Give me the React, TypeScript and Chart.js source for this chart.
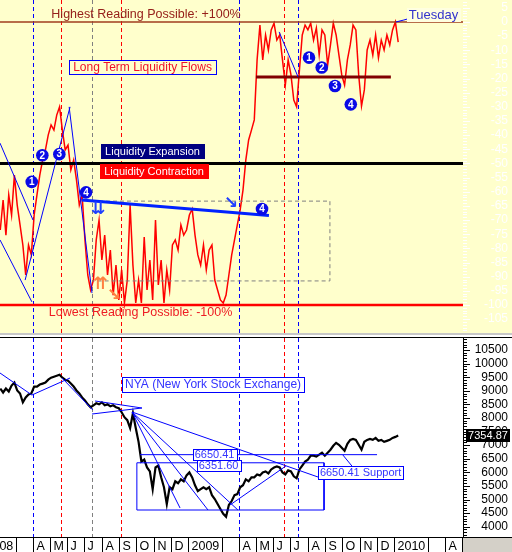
import React, { useEffect, useRef } from "react";
import { Chart, registerables } from "chart.js";

Chart.register(...registerables);

const FONT = "'Liberation Sans', Arial, Helvetica, sans-serif";

// x values: days counted from 1 Jan 2008
const X_MIN = 32.5;
const X_MAX = 852.8;
const SERIES_START_DAY = 33;
const SERIES_STEP_DAYS = 5;

// Long term liquidity flow reading (right-axis units), one value every 5 days
const liquidityFlow: number[] = [
  -73.5, -62.9, -75.3, -61.1, -68.2, -54.1, -64.7, -71.7, -78.8, -89.4,
  -78.8, -82.3, -68.2, -61.1, -54.1, -48.8, -45.2, -39.9, -36.4, -38.2,
  -32.9, -30.0, -38.2, -45.2, -43.5, -52.3, -48.8, -55.8, -64.7, -61.1,
  -77.0, -89.4, -94.7, -91.2, -77.0, -70.0, -84.1, -75.3, -89.4, -80.6,
  -96.5, -85.9, -98.2, -87.6, -99.3, -91.2, -64.7, -85.9, -99.3, -91.2,
  -99.3, -76.0, -94.7, -84.1, -98.2, -70.0, -92.9, -84.1, -99.3, -87.6,
  -94.7, -78.8, -77.0, -80.6, -71.7, -75.3, -73.5, -68.2, -66.1, -75.3,
  -82.3, -85.9, -78.8, -87.6, -80.6, -78.8, -91.2, -94.7, -98.2, -99.3,
  -96.5, -89.4, -82.3, -77.0, -71.7, -66.4, -59.4, -48.8, -41.7, -38.2,
  -34.6, -13.4, -1.1, -13.4, -4.6, -9.9, -2.8, -0.4, -6.4, -4.6,
  -13.4, -22.3, -13.4, -18.7, -27.6, -30.0, -17.0, -4.6, -1.1, -2.8,
  -0.4, -6.4, -2.1, -11.7, -2.8, -4.6, -15.2, -8.1, -0.4, -4.6,
  -11.7, -18.7, -22.3, -13.4, -8.1, -1.1, -2.8, -18.7, -29.7, -24.0,
  -9.9, -6.4, -11.7, -4.6, -12.7, -6.4, -9.9, -4.6, -8.1, -2.8,
  0, -7.1,
];

// NYA close, one value every 5 days
const nyaClose: number[] = [
  9083, 8938, 9083, 8974, 9192, 9301, 9011, 8902, 8575, 8757,
  8866, 8902, 9156, 9156, 9229, 9265, 9301, 9410, 9483, 9519,
  9555, 9592, 9483, 9410, 9374, 9265, 9156, 9011, 8902, 8757,
  8648, 8502, 8394, 8466, 8539, 8502, 8575, 8466, 8502, 8430,
  8466, 8394, 8357, 8212, 8030, 7921, 7631, 8176, 7631, 7123,
  6396, 6469, 6179, 6033, 5380, 6179, 6251, 5816, 5452, 4835,
  5452, 5380, 5670, 5598, 5743, 5670, 5888, 5997, 5816, 5525,
  5307, 5380, 5452, 5380, 5452, 5162, 5017, 4835, 4654, 4472,
  4363, 4799, 4944, 5162, 5198, 5452, 5525, 5743, 5670, 5816,
  5816, 5924, 5888, 5997, 6033, 5961, 6106, 6179, 6215, 6179,
  5997, 5924, 6070, 6033, 5852, 5779, 6106, 6251, 6396, 6469,
  6614, 6614, 6578, 6651, 6723, 6614, 6723, 6832, 6977, 7086,
  7014, 6905, 6796, 7050, 7195, 7232, 7195, 7014, 6832, 7123,
  7195, 7232, 7195, 7268, 7159, 7195, 7123, 7159, 7195, 7268,
  7304, 7354.87,
];
const nyaLastValue = 7354.87;

const liquidityTicks = [5, 0, -5, -10, -15, -20, -25, -30, -35, -40, -45, -50, -55, -60, -65, -70, -75, -80, -85, -90, -95, -100, -105];
const nyaTicks = [4000, 4500, 5000, 5500, 6000, 6500, 7000, 7500, 8000, 8500, 9000, 9500, 10000, 10500];
const monthLetters = ["J", "F", "M", "A", "M", "J", "J", "A", "S", "O", "N", "D"];

const cycleLines = [
  { day: 91, color: "#0000ff" },
  { day: 140.6, color: "#ff0000" },
  { day: 195.5, color: "#808080" },
  { day: 247, color: "#ff0000" },
  { day: 456, color: "#0000ff" },
  { day: 535.7, color: "#ff0000" },
  { day: 560.5, color: "#0000ff" },
];

// reference levels of the liquidity panel
const highestLevel = 0;
const neutralLevel = -50;
const lowestLevel = -100;
const consolidationLevel = { from: 486, to: 725, value: -19.4 };
const liquidityDownTrend: [number, number][] = [[177, -62.9], [509, -68.4]];
const liquidityBox = { from: 195.5, to: 617, top: -63.3, bottom: -91.5 };
const liquidityTrendLines: [number, number][][] = [
  [[32.5, -42.8], [91, -70.0]],
  [[32.5, -77.0], [89, -98.9]],
  [[77, -91.2], [156.6, -30.0]],
  [[155, -30.0], [195.5, -95.8]],
  [[527, -3.5], [560.5, -19.4]],
  [[734, 0], [748, 0.7], [755, 1.1]],
];
const liquidityMarkers = [
  { day: 88.7, v: -56.5, n: 1 },
  { day: 107.5, v: -47.1, n: 2 },
  { day: 137.6, v: -46.7, n: 3 },
  { day: 184.9, v: -60.2, n: 4 },
  { day: 496.7, v: -66.1, n: 4 },
  { day: 580, v: -12.6, n: 1 },
  { day: 602.5, v: -16.1, n: 2 },
  { day: 626, v: -22.6, n: 3 },
  { day: 654, v: -29.1, n: 4 },
];
const liquidityArrows = [
  { day: 206, v: -66.4, glyph: "\u21CA", color: "#1f3fff" },
  { day: 210, v: -92.9, glyph: "\u21C8", color: "#ff8040" },
  { day: 234.5, v: -96.8, glyph: "\u2198", color: "#ff8040" },
  { day: 441.8, v: -64.3, glyph: "\u2198", color: "#1f3fff" },
];

// NYA panel annotations
const supportLevel = 6650.41;
const supportLine = { from: 280.6, to: 700.5 };
const baseBox = { from: 275, to: 606.6, top: 6351.6, bottom: 4614 };
const nyaTrendLines: [number, number][][] = [
  [[32.5, 9655], [89, 8845]],
  [[89, 8845], [156.6, 9471]],
  [[142.4, 9471], [197, 8293]],
  [[200.9, 8625], [284, 8367]],
  [[195.5, 8146], [284, 8367]],
  [[266.4, 8220], [596, 5828]],
  [[266.4, 8220], [454, 4614]],
  [[266.4, 8220], [401, 4614]],
  [[266.4, 8220], [351.5, 4688]],
  [[440, 4798], [539, 6233]],
  [[640, 6638], [656, 6233]],
];

const xy = (pts: [number, number][]) => pts.map(([x, y]) => ({ x, y }));
const seg = (pts: [number, number][], color: string, width: number, dash: number[] = []) => ({
  data: xy(pts),
  borderColor: color,
  borderWidth: width,
  borderDash: dash,
  pointRadius: 0,
  fill: false,
  tension: 0,
});

function monthStarts() {
  const out: { day: number; y: number; m: number }[] = [];
  const base = Date.UTC(2008, 0, 1);
  for (let y = 2008; y <= 2010; y++) {
    for (let m = 0; m < 12; m++) {
      if (y === 2010 && m > 4) break;
      out.push({ day: (Date.UTC(y, m, 1) - base) / 86400000, y, m });
    }
  }
  return out;
}

function boxText(ctx: any, x: number, y: number, text: string, o: any) {
  ctx.font = o.font;
  const w = ctx.measureText(text).width;
  if (o.bg || o.border) {
    const bw = Math.round(w + 2 * o.padX);
    const bh = o.h;
    const bx = Math.round(x - bw / 2) + 0.5;
    const by = Math.round(y - bh / 2) + 0.5;
    if (o.bg) {
      ctx.fillStyle = o.bg;
      ctx.fillRect(bx - 0.5, by - 0.5, bw + 1, bh + 1);
    }
    if (o.border) {
      ctx.strokeStyle = o.border;
      ctx.lineWidth = 1;
      ctx.setLineDash([]);
      ctx.strokeRect(bx, by, bw, bh);
    }
  }
  ctx.fillStyle = o.color;
  ctx.textAlign = "center";
  ctx.textBaseline = "middle";
  ctx.fillText(text, x, y + 0.5);
}

function drawCycleLines(chart: any) {
  const { ctx, chartArea: a, scales } = chart;
  ctx.save();
  ctx.lineWidth = 1;
  ctx.setLineDash([4, 3]);
  for (const c of cycleLines) {
    const px = Math.round(scales.x.getPixelForValue(c.day)) + 0.5;
    ctx.strokeStyle = c.color;
    ctx.beginPath();
    ctx.moveTo(px, a.top);
    ctx.lineTo(px, a.bottom);
    ctx.stroke();
  }
  ctx.restore();
}

function drawRuler(chart: any, from: number, to: number, minor: number, major: number, color: string) {
  const { ctx, chartArea: a, scales } = chart;
  ctx.save();
  ctx.strokeStyle = color;
  ctx.lineWidth = 1;
  for (let v = from; v <= to + 1e-9; v += minor) {
    const py = Math.round(scales.y.getPixelForValue(v)) + 0.5;
    if (py < a.top || py > a.bottom) continue;
    const isMajor = Math.abs(v / major - Math.round(v / major)) < 1e-6;
    ctx.beginPath();
    ctx.moveTo(a.right, py);
    ctx.lineTo(a.right + (isMajor ? 7 : 4), py);
    ctx.stroke();
  }
  ctx.restore();
}

const topDecor = {
  id: "topDecor",
  beforeDatasetsDraw(chart: any) {
    drawCycleLines(chart);
  },
  afterDatasetsDraw(chart: any) {
    const { ctx, scales } = chart;
    const X = (d: number) => scales.x.getPixelForValue(d);
    const Y = (v: number) => scales.y.getPixelForValue(v);
    ctx.save();
    boxText(ctx, X(291.2), Y(2.83), "Highest Reading Possible: +100%", { font: `12.5px ${FONT}`, color: "#96201a" });
    boxText(ctx, X(285), Y(-15.9), "Long Term Liquidity Flows", { font: `12px ${FONT}`, color: "#f0102a", bg: "#ffffcc", border: "#0000ff", padX: 4, h: 14 });
    boxText(ctx, X(302.7), Y(-45.6), "Liquidity Expansion", { font: `11px ${FONT}`, color: "#ffffff", bg: "#000080", padX: 4, h: 14 });
    boxText(ctx, X(305.4), Y(-52.65), "Liquidity Contraction", { font: `11px ${FONT}`, color: "#ffffff", bg: "#ff0000", padX: 4, h: 14 });
    boxText(ctx, X(281.5), Y(-102.65), "Lowest Reading Possible: -100%", { font: `12.5px ${FONT}`, color: "#ee1c24" });
    boxText(ctx, X(800.6), Y(2.47), "Tuesday", { font: `13px ${FONT}`, color: "#3333cc", bg: "#ffffe0", padX: 2, h: 13 });
    for (const a of liquidityArrows) {
      ctx.font = `bold 17px 'DejaVu Sans', sans-serif`;
      ctx.fillStyle = a.color;
      ctx.textAlign = "center";
      ctx.textBaseline = "middle";
      ctx.fillText(a.glyph, X(a.day), Y(a.v));
    }
    for (const m of liquidityMarkers) {
      const px = X(m.day);
      const py = Y(m.v);
      ctx.beginPath();
      ctx.arc(px, py, 6.3, 0, Math.PI * 2);
      ctx.fillStyle = "#0a0ae6";
      ctx.fill();
      ctx.fillStyle = "#ffffff";
      ctx.font = `bold 10px ${FONT}`;
      ctx.textAlign = "center";
      ctx.textBaseline = "middle";
      ctx.fillText(String(m.n), px, py + 0.5);
    }
    ctx.restore();
  },
  afterDraw(chart: any) {
    drawRuler(chart, -110, 7, 1, 5, "#ffffff");
  },
};

const bottomDecor = {
  id: "bottomDecor",
  beforeDatasetsDraw(chart: any) {
    drawCycleLines(chart);
  },
  afterDatasetsDraw(chart: any) {
    const { ctx, scales } = chart;
    const X = (d: number) => scales.x.getPixelForValue(d);
    const Y = (v: number) => scales.y.getPixelForValue(v);
    ctx.save();
    boxText(ctx, X(410), Y(9232), "NYA (New York Stock Exchange)", { font: `12px ${FONT}`, color: "#3333ff", bg: "#ffffff", border: "#0000ff", padX: 3, h: 15 });
    boxText(ctx, X(419.7), Y(6270), "6351.60", { font: `11px ${FONT}`, color: "#3333ff", bg: "#ffffff", border: "#0000ff", padX: 2, h: 11 });
    boxText(ctx, X(412.6), Y(6656), "6650.41", { font: `11px ${FONT}`, color: "#3333ff", bg: "#ffffff", border: "#0000ff", padX: 2, h: 11 });
    boxText(ctx, X(671.3), Y(5994), "6650.41 Support", { font: `11px ${FONT}`, color: "#3333ff", bg: "#ffffff", border: "#0000ff", padX: 2, h: 13 });
    ctx.restore();
  },
  afterDraw(chart: any) {
    const { ctx, chartArea: a, scales, width, height } = chart;
    ctx.save();
    ctx.strokeStyle = "#000";
    ctx.lineWidth = 1;
    ctx.beginPath();
    ctx.moveTo(a.right + 0.5, a.top);
    ctx.lineTo(a.right + 0.5, a.bottom);
    ctx.stroke();
    ctx.restore();
    drawRuler(chart, 3700, 10900, 100, 500, "#000000");
    ctx.save();
    const ty = scales.y.getPixelForValue(nyaLastValue);
    ctx.fillStyle = "#000";
    ctx.fillRect(a.right + 3, Math.round(ty - 7), width - a.right - 5, 13);
    ctx.fillStyle = "#fff";
    ctx.font = `11px ${FONT}`;
    ctx.textAlign = "center";
    ctx.textBaseline = "middle";
    ctx.fillText(nyaLastValue.toFixed(2), (a.right + 3 + width - 2) / 2, Math.round(ty - 7) + 7);
    const top = a.bottom;
    ctx.fillStyle = "#ffffff";
    ctx.fillRect(0, top, a.right, height - top);
    ctx.fillStyle = "#d4d0c8";
    ctx.fillRect(a.right, top, width - a.right, height - top);
    ctx.strokeStyle = "#000";
    ctx.beginPath();
    ctx.moveTo(0, top + 0.5);
    ctx.lineTo(width, top + 0.5);
    ctx.stroke();
    ctx.beginPath();
    ctx.rect(0, top, a.right, height - top);
    ctx.clip();
    ctx.font = `12.5px ${FONT}`;
    ctx.textAlign = "left";
    ctx.textBaseline = "alphabetic";
    ctx.fillStyle = "#000";
    for (const ms of monthStarts()) {
      if (ms.m === 1) continue;
      const px = Math.round(scales.x.getPixelForValue(ms.day)) + 0.5;
      ctx.beginPath();
      ctx.moveTo(px, top);
      ctx.lineTo(px, height);
      ctx.stroke();
      if (ms.m === 2) continue;
      const lbl = ms.m === 0 ? String(ms.y) : monthLetters[ms.m];
      ctx.fillText(lbl, px + 3, height - 2);
    }
    ctx.restore();
  },
};

function fixWidth(s: any) {
  s.width = 45;
  s.paddingTop = 0;
  s.paddingBottom = 0;
}

export default function App() {
  const topRef = useRef<HTMLCanvasElement>(null);
  const botRef = useRef<HTMLCanvasElement>(null);

  useEffect(() => {
    const liqPoints = liquidityFlow.map((v, i) => ({ x: SERIES_START_DAY + i * SERIES_STEP_DAYS, y: v }));
    const nyaPoints = nyaClose.map((v, i) => ({ x: SERIES_START_DAY + i * SERIES_STEP_DAYS, y: v }));

    const topChart = new Chart(topRef.current as HTMLCanvasElement, {
      type: "line",
      data: {
        datasets: [
          ...liquidityTrendLines.map((l) => seg(l, "#0000ff", 1)),
          seg(liquidityDownTrend, "#0022ff", 3),
          seg([[consolidationLevel.from, consolidationLevel.value], [consolidationLevel.to, consolidationLevel.value]], "#800000", 3),
          seg([[X_MIN, neutralLevel], [X_MAX, neutralLevel]], "#000000", 3),
          seg([[X_MIN, lowestLevel], [X_MAX, lowestLevel]], "#ff0000", 2.5),
          seg([[X_MIN, highestLevel], [X_MAX, highestLevel]], "#a03c1e", 1.5),
          seg(
            [
              [liquidityBox.from, liquidityBox.top],
              [liquidityBox.to, liquidityBox.top],
              [liquidityBox.to, liquidityBox.bottom],
              [liquidityBox.from, liquidityBox.bottom],
            ],
            "#808080",
            1,
            [4, 3]
          ),
          { data: liqPoints, borderColor: "#ff0000", borderWidth: 1.5, pointRadius: 0, fill: false, tension: 0 },
        ] as any,
      },
      options: {
        animation: false,
        responsive: false,
        maintainAspectRatio: false,
        layout: { padding: { left: 0, right: 4, top: 0, bottom: 0 } },
        plugins: { legend: { display: false }, tooltip: { enabled: false } },
        scales: {
          x: { type: "linear", min: X_MIN, max: X_MAX, display: false },
          y: {
            type: "linear",
            position: "right",
            min: -109.9,
            max: 7.77,
            afterBuildTicks: (s: any) => {
              s.ticks = liquidityTicks.map((v) => ({ value: v }));
            },
            afterFit: fixWidth,
            grid: { display: false, drawTicks: false },
            border: { display: false },
            ticks: {
              color: "#ffffff",
              font: { family: FONT, size: 12 },
              crossAlign: "far",
              autoSkip: false,
              padding: 0,
              callback: (v: any) => String(v),
            },
          },
        },
      } as any,
      plugins: [topDecor],
    });

    const botChart = new Chart(botRef.current as HTMLCanvasElement, {
      type: "line",
      data: {
        datasets: [
          ...nyaTrendLines.map((l) => seg(l, "#0000ff", 1)),
          seg([[supportLine.from, supportLevel], [supportLine.to, supportLevel]], "#0000ff", 1),
          seg(
            [
              [baseBox.from, baseBox.top],
              [baseBox.to, baseBox.top],
              [baseBox.to, baseBox.bottom],
              [baseBox.from, baseBox.bottom],
              [baseBox.from, baseBox.top],
            ],
            "#0000ff",
            1
          ),
          { data: nyaPoints, borderColor: "#000000", borderWidth: 2.2, pointRadius: 0, fill: false, tension: 0 },
        ] as any,
      },
      options: {
        animation: false,
        responsive: false,
        maintainAspectRatio: false,
        layout: { padding: { left: 0, right: 4, top: 0, bottom: 15 } },
        plugins: { legend: { display: false }, tooltip: { enabled: false } },
        scales: {
          x: { type: "linear", min: X_MIN, max: X_MAX, display: false },
          y: {
            type: "linear",
            position: "right",
            min: 3621,
            max: 10943,
            afterBuildTicks: (s: any) => {
              s.ticks = nyaTicks.map((v) => ({ value: v }));
            },
            afterFit: fixWidth,
            grid: { display: false, drawTicks: false },
            border: { display: false },
            ticks: {
              color: "#000000",
              font: { family: FONT, size: 12 },
              crossAlign: "far",
              autoSkip: false,
              padding: 0,
              callback: (v: any) => String(v),
            },
          },
        },
      } as any,
      plugins: [bottomDecor],
    });

    return () => {
      topChart.destroy();
      botChart.destroy();
    };
  }, []);

  return (
    <div style={{ position: "absolute", left: 0, top: 0, width: 512, height: 552, background: "#ffffff", overflow: "hidden" }}>
      <canvas
        ref={topRef}
        width={512}
        height={333}
        style={{ position: "absolute", left: 0, top: 0, width: 512, height: 333, background: "#ffffcc" }}
      />
      <div style={{ position: "absolute", left: 0, top: 333, width: 512, height: 2, background: "#c8c8c8" }} />
      <div style={{ position: "absolute", left: 0, top: 337, width: 512, height: 1, background: "#000000" }} />
      <canvas
        ref={botRef}
        width={512}
        height={214}
        style={{ position: "absolute", left: 0, top: 338, width: 512, height: 214, background: "#ffffff" }}
      />
    </div>
  );
}
